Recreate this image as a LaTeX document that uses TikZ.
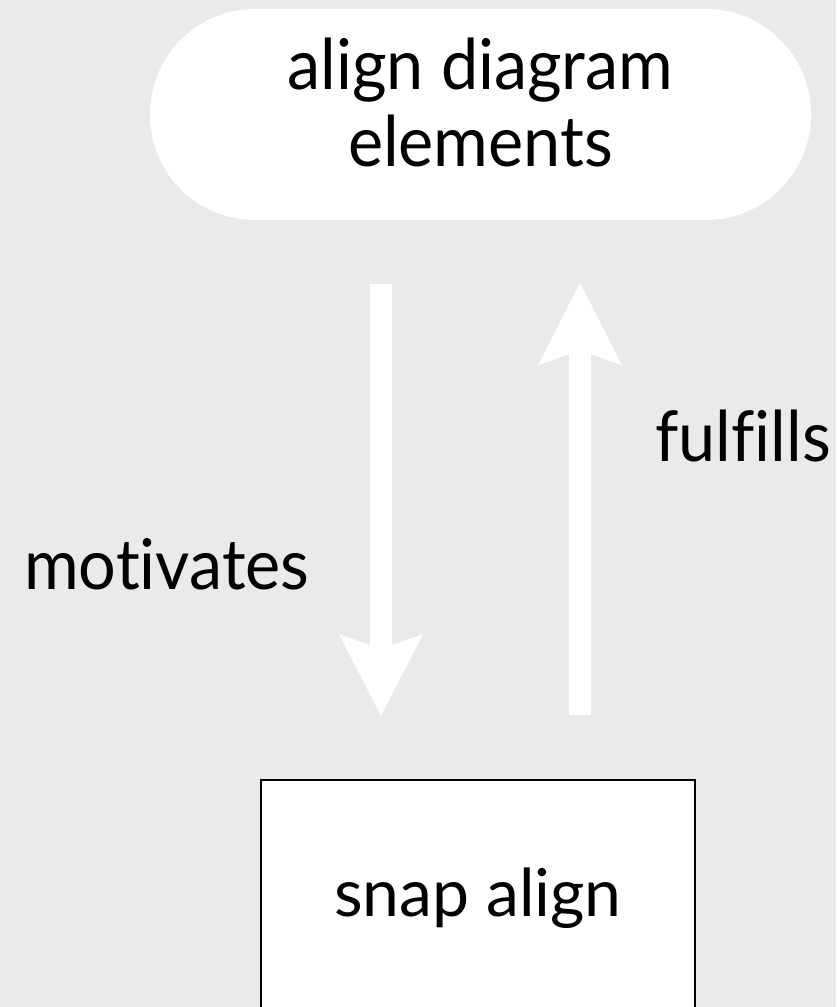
\documentclass[tikz,border=0pt]{standalone}
\usepackage{fontspec}
\setmainfont[Ligatures=NoCommon]{Lato}
\newfontfamily\narrowfont[FakeStretch=0.95, Ligatures=NoCommon]{Lato}
\usepackage{tikz}
\usetikzlibrary{arrows.meta, positioning, calc}
\definecolor{PageGray}{HTML}{EAEAEA}

\begin{document}
\begin{tikzpicture}[
    x=1pt, y=1pt,
    flow/.style={-{Stealth[length=82pt, width=84pt, inset=15pt, line width=0pt]}, line width=22pt, white,
        shorten <=64pt, shorten >=63pt},
    label/.style={font=\narrowfont\fontsize{70}{80}\selectfont, inner sep=0pt},
]

% fondo
\fill[PageGray] (0,0) rectangle (836,-1007);
\useasboundingbox (0,0) rectangle (836,-1007);

% objetivo (pastilla)
\node[fill=white, rounded corners=105pt, minimum width=661pt, minimum height=211pt,
      align=center, text depth=24pt, font=\narrowfont\fontsize{70}{77}\selectfont]
      at (480.5,-114.5) (goal) {align diagram\\elements};

% caja
\node[draw=black, line width=1.5pt, fill=white, anchor=north, minimum width=434pt,
      minimum height=236pt, font=\fontsize{66}{80}\selectfont]
      at (478,-779) (snap) {snap align};

% flechas
\draw[flow] ([xshift=-99.5pt]goal.south) -- ([xshift=-97pt]snap.north);
\draw[flow] ([xshift=102pt]snap.north) -- ([xshift=99.5pt]goal.south);

% etiquetas
\node[label, anchor=base west] at (24,-589) (mot) {motivates};
\node[label, anchor=base] at (743,-461) (ful) {fulfills};

\end{tikzpicture}
\end{document}
